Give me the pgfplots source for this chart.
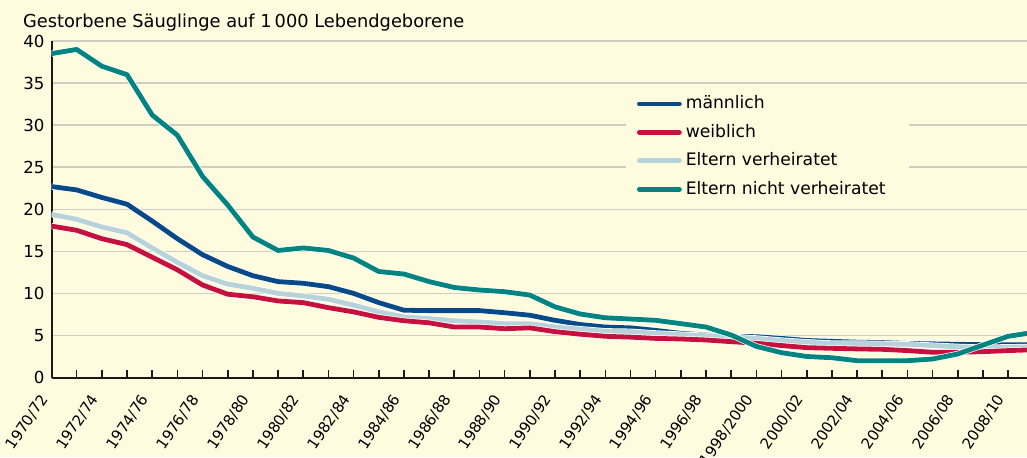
\documentclass[border=0pt]{standalone}
\usepackage{fontspec}
\setmainfont{DejaVu Sans}
\usepackage{pgfplots}
\pgfplotsset{compat=1.18}
\usetikzlibrary{calc, backgrounds}

\definecolor{cream}{RGB}{255,251,223}
\definecolor{cblue}{RGB}{8,74,136}
\definecolor{cred}{RGB}{198,16,62}
\definecolor{clight}{RGB}{183,211,217}
\definecolor{cteal}{RGB}{0,132,127}
\definecolor{cgrid}{RGB}{208,206,196}

% idx: 0 = 1970/72, 1 = 1971/73, ... 38 = 2008/10
\pgfplotstableread{
idx teal blue light red
0  38.5 22.7 19.4 18.0
1  39.0 22.3 18.8 17.5
2  37.0 21.4 17.9 16.5
3  36.0 20.6 17.2 15.8
4  31.2 18.6 15.4 14.3
5  28.8 16.5 13.7 12.8
6  23.9 14.6 12.1 11.0
7  20.5 13.2 11.1 9.9
8  16.7 12.1 10.6 9.6
9  15.1 11.4 10.0 9.1
10 15.4 11.2 9.7  8.9
11 15.1 10.8 9.3  8.3
12 14.2 10.0 8.6  7.8
13 12.6 8.9  7.8  7.15
14 12.3 8.0  7.2  6.75
15 11.4 7.95 7.0  6.5
16 10.7 7.95 6.75 6.0
17 10.4 7.95 6.6  6.0
18 10.2 7.7  6.4  5.8
19 9.8  7.4  6.4  5.9
20 8.4  6.8  6.0  5.45
21 7.55 6.3  5.75 5.15
22 7.1  6.0  5.5  4.9
23 6.95 5.9  5.45 4.8
24 6.8  5.6  5.25 4.65
25 6.4  5.25 5.1  4.58
26 6.0  5.05 4.97 4.46
27 5.05 4.9  4.85 4.26
28 3.7  4.85 4.65 4.07
29 2.95 4.65 4.4  3.8
30 2.5  4.4  4.2  3.55
31 2.35 4.3  4.05 3.47
32 2.0  4.2  4.05 3.4
33 2.0  4.15 4.0  3.35
34 2.0  4.05 3.95 3.2
35 2.2  4.0  3.8  3.0
36 2.8  3.95 3.65 3.0
37 3.85 3.9  3.55 3.07
38 4.9  3.9  3.6  3.2
39 5.35 3.9  3.65 3.3
}\infant

\begin{document}
\begin{tikzpicture}
\begin{axis}[
name=ax,
scale only axis,
width=487.75pt, height=168.25pt,
xmin=0, xmax=38.75,
ymin=0, ymax=40,
axis x line=bottom, axis y line=left,
axis line style={-, line width=1pt, color=black!90},
ytick={0,5,...,40},
ytick style={draw=none},
xtick={0,2,...,38},
minor xtick={1,3,...,37},
xticklabels={1970/72,1972/74,1974/76,1976/78,1978/80,1980/82,1982/84,1984/86,1986/88,1988/90,1990/92,1992/94,1994/96,1996/98,1998/2000,2000/02,2002/04,2004/06,2006/08,2008/10},
xtick pos=bottom,
tick align=inside,
major tick length=4pt, minor tick length=4pt,
xtick style={line width=0.8pt, color=black!90},
ymajorgrids,
grid style={color=cgrid, line width=0.7pt},
/pgf/number format/assume math mode=true,
yticklabel style={font=\fontsize{8.3}{9}\selectfont},
xticklabel style={font=\fontsize{7.5}{8}\selectfont, xshift=-1.5pt, yshift=-6.5pt, rotate=56, anchor=east},
clip=true,
legend cell align=left,
legend style={at={(axis cs:23.24,34.0)}, anchor=north west, draw=none, fill=none,
  font=\fontsize{8.6}{10}\selectfont, row sep=2.2pt, inner sep=0pt},
legend image code/.code={\draw[#1, line width=2.4pt, line cap=round] (0pt,0pt) -- (20pt,0pt);},
]
\fill[cream] (axis cs:22.81,34.8) rectangle (axis cs:34.07,20.1);
\addplot[forget plot, cblue, line width=2.4pt, line join=round, preaction={draw=white, line width=3.1pt}] table[x=idx, y=blue] {\infant};
\addplot[forget plot, clight, line width=2.4pt, line join=round, preaction={draw=white, line width=3.1pt}] table[x=idx, y=light] {\infant};
\addplot[forget plot, cred, line width=2.4pt, line join=round, preaction={draw=white, line width=3.1pt}] table[x=idx, y=red] {\infant};
\addplot[forget plot, cteal, line width=2.4pt, line join=round, preaction={draw=white, line width=3.1pt}] table[x=idx, y=teal] {\infant};
\addlegendimage{cblue}
\addlegendentry{männlich}
\addlegendimage{cred}
\addlegendentry{weiblich}
\addlegendimage{clight}
\addlegendentry{Eltern verheiratet}
\addlegendimage{cteal}
\addlegendentry{Eltern nicht verheiratet}
\end{axis}
\node[anchor=base west, font=\fontsize{8.9}{10}\selectfont] at ($(ax.north west)+(-17.75pt,7.0pt)$) {Gestorbene Säuglinge auf 1\,000 Lebendgeborene};
\begin{pgfonlayer}{background}
\fill[cream] ($(ax.south west)+(-25.75pt,-39.75pt)$) rectangle ($(ax.north east)+(0pt,20.5pt)$);
\end{pgfonlayer}
\pgfresetboundingbox
\path[use as bounding box] ($(ax.south west)+(-25.75pt,-39.75pt)$) rectangle ($(ax.north east)+(0pt,20.5pt)$);
\end{tikzpicture}
\end{document}
